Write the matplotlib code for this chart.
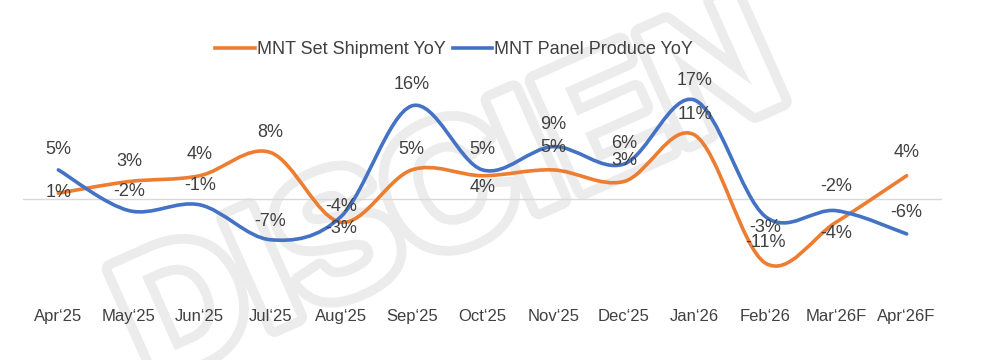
import matplotlib.pyplot as plt
import matplotlib.patheffects as pe
from matplotlib.path import Path
from matplotlib.patches import PathPatch
import numpy as np

plt.rcParams['font.family'] = ['Liberation Sans', 'DejaVu Sans']

# ---------------------------------------------------------------- data
months = ["Apr‘25", "May‘25", "Jun‘25", "Jul‘25", "Aug‘25", "Sep‘25", "Oct‘25",
          "Nov‘25", "Dec‘25", "Jan‘26", "Feb‘26", "Mar‘26F", "Apr‘26F"]
set_shipment = [1, 3, 4, 8, -4, 5, 4, 5, 3, 11, -11, -4, 4]
panel_produce = [5, -2, -1, -7, -3, 16, 5, 9, 6, 17, -3, -2, -6]

# label offsets (pixels above the point, negative = below)
set_label_dy = [1, 20, 21, 20, 16, 20, -12, 22, 21, 20, 21, -11, 23]
panel_label_dy = [20, 19, 19, 18, -12, 21, 20, 22, 21, 20, -11, 24, 21]

ORANGE = '#ED7D31'
BLUE = '#4472C4'
TEXT = '#404040'


def smooth_path(xs, ys):
    """Excel-like smoothed line as cubic bezier segments"""
    pts = np.column_stack([xs, ys]).astype(float)
    n = len(pts)
    verts = [pts[0]]
    codes = [Path.MOVETO]
    for i in range(n - 1):
        p0 = pts[max(i - 1, 0)]
        p1 = pts[i]
        p2 = pts[i + 1]
        p3 = pts[min(i + 2, n - 1)]
        c1 = p1 + (p2 - p0) / 6.0
        c2 = p2 - (p3 - p1) / 6.0
        verts += [c1, c2, p2]
        codes += [Path.CURVE4] * 3
    return Path(verts, codes)


fig = plt.figure(figsize=(9.84, 3.6), dpi=100)

# faint watermark behind the chart
fig.text(0.46, 0.45, 'DISCIEN', fontsize=125, fontweight='bold', color='white',
         rotation=24, ha='center', va='center', zorder=-5,
         path_effects=[pe.withStroke(linewidth=14, foreground='#ececec')])

ax = fig.add_axes([23 / 984, 1 - 286.3 / 360, 919 / 984, 203.7 / 360])
ax.patch.set_alpha(0)

x = np.arange(len(months))
ys1 = np.array(set_shipment) / 100
ys2 = np.array(panel_produce) / 100

ax.axhline(0, color='#d9d9d9', lw=1, zorder=1)

for ys, col in [(ys1, ORANGE), (ys2, BLUE)]:
    ax.add_patch(PathPatch(smooth_path(x, ys), facecolor='none', edgecolor=col,
                           lw=2.6, capstyle='round', joinstyle='round', zorder=3))

for xi, v, dy in zip(x, set_shipment, set_label_dy):
    ax.annotate(f'{v}%', (xi, v / 100), xytext=(0, dy), textcoords='offset pixels',
                ha='center', va='center', fontsize=13, color=TEXT, zorder=4)
for xi, v, dy in zip(x, panel_produce, panel_label_dy):
    ax.annotate(f'{v}%', (xi, v / 100), xytext=(0, dy), textcoords='offset pixels',
                ha='center', va='center', fontsize=13, color=TEXT, zorder=4)

ax.set_xlim(-0.5, len(months) - 0.5)
ax.set_ylim(-0.15, 0.20)
ax.set_xticks(x)
ax.set_xticklabels(months, fontsize=12, color=TEXT)
ax.tick_params(axis='x', length=0, pad=16)
ax.set_yticks([])
for s in ax.spines.values():
    s.set_visible(False)

handles = [plt.Line2D([], [], color=ORANGE, lw=2.6),
           plt.Line2D([], [], color=BLUE, lw=2.6)]
fig.legend(handles, ['MNT Set Shipment YoY', 'MNT Panel Produce YoY'],
           loc='center', bbox_to_anchor=(454 / 984, 1 - 50 / 360), ncol=2,
           frameon=False, fontsize=13, labelcolor=TEXT, handlelength=2.2,
           handletextpad=0.1, columnspacing=0.4)

fig.savefig('out.png', dpi=100)
